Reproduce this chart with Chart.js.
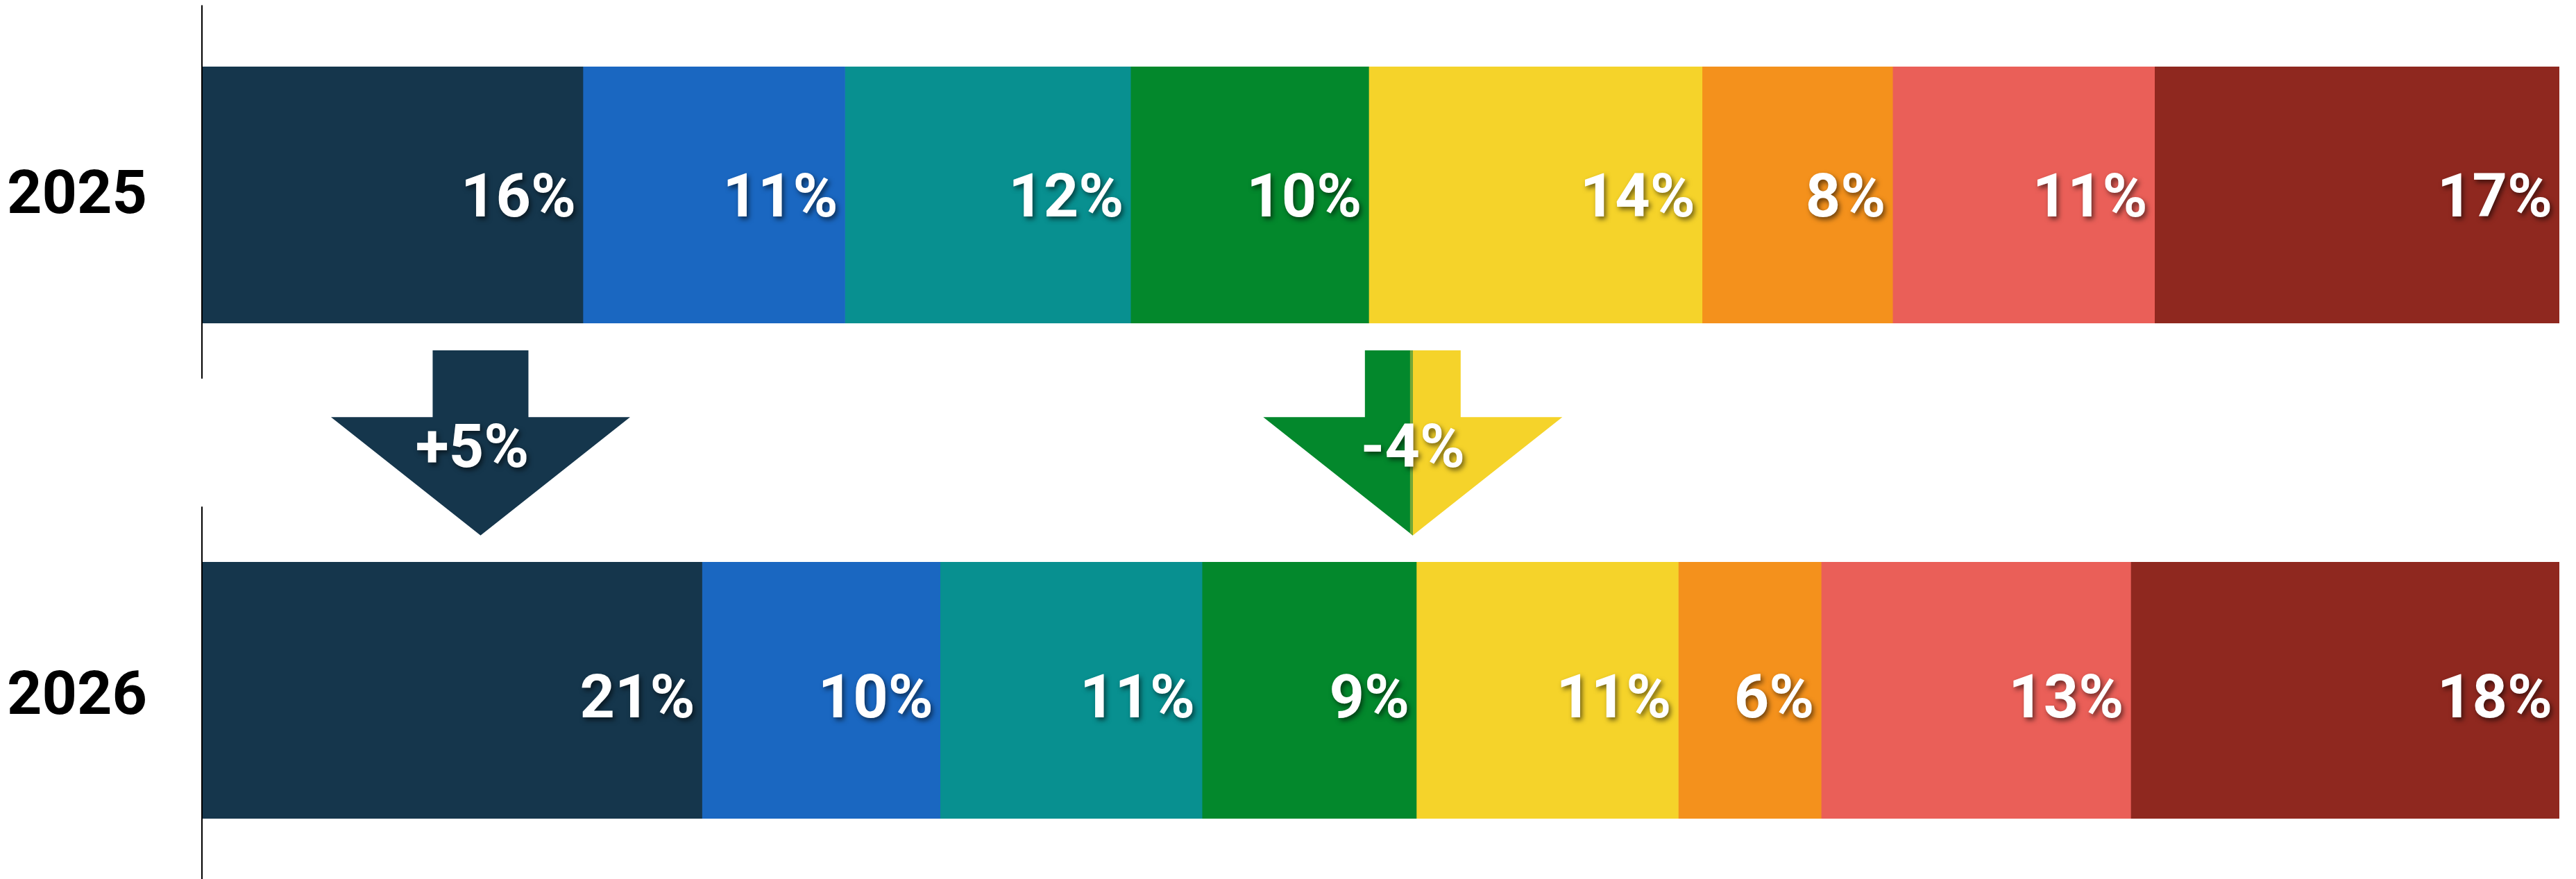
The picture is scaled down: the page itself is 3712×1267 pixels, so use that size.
<!DOCTYPE html>
<html>
<head>
<meta charset="utf-8">
<script src="https://cdn.jsdelivr.net/npm/chart.js@4/dist/chart.umd.min.js"></script>
<style>
  html, body { margin: 0; padding: 0; background: #fff; }
  canvas { display: block; }
</style>
</head>
<body>
<canvas id="chart" width="3712" height="1267"></canvas>
<script>
// rows: the empty middle row holds the change arrows
const years = ['2025', '', '2026'];
const segmentColors = ['#15364c', '#1a67c1', '#089090', '#03882c', '#f5d32a', '#f4911c', '#ea5f58', '#8f281f'];
const share2025 = [16, 11, 12, 10, 14, 8, 11, 17];
const share2026 = [21, 10, 11, 9, 11, 6, 13, 18];

// change arrows between the two bars
const changeLabels = ['+5%', '-4%'];
const changeAt = [11.7, 50.85];
const changeColors = [['#15364c'], ['#03882c', '#f5d32a']];

const FONT = 'bold 88px Roboto, "Noto Sans", sans-serif';

function shadowText(ctx, text, x, y, align) {
    ctx.save();
    ctx.font = FONT;
    ctx.textAlign = align;
    ctx.textBaseline = 'alphabetic';
    ctx.fillStyle = '#fff';
    ctx.shadowColor = 'rgba(0, 0, 0, 0.55)';
    ctx.shadowOffsetX = 3;
    ctx.shadowOffsetY = 4;
    ctx.shadowBlur = 7;
    ctx.fillText(text, x, y);
    ctx.restore();
}

const decorations = {
    id: 'decorations',
    afterDatasetsDraw(chart) {
        const ctx = chart.ctx;
        const xs = chart.scales.x, ys = chart.scales.y;
        const step = ys.getPixelForValue(1) - ys.getPixelForValue(0);

        // axis line pieces beside each year
        ctx.save();
        ctx.strokeStyle = '#000';
        ctx.lineWidth = 2;
        [0, 2].forEach(i => {
            const cy = ys.getPixelForValue(i);
            ctx.beginPath();
            ctx.moveTo(chart.chartArea.left, cy - step * 0.745);
            ctx.lineTo(chart.chartArea.left, cy + step * 0.745);
            ctx.stroke();
        });
        ctx.restore();

        // value labels, right aligned at the end of each segment
        chart.data.datasets.forEach((ds, di) => {
            const meta = chart.getDatasetMeta(di);
            meta.data.forEach((el, i) => {
                const v = ds.data[i];
                if (v == null) return;
                shadowText(ctx, v + '%', el.x - 10, el.y + 35, 'right');
            });
        });

        // arrows
        const yMid = ys.getPixelForValue(1);
        const top = yMid - step * 0.368, head = yMid - step * 0.102, tip = yMid + step * 0.37;
        changeLabels.forEach((label, k) => {
            const cx = xs.getPixelForValue(changeAt[k]);
            const sw = 69, hw = 215.5;
            const path = new Path2D();
            path.moveTo(cx - sw, top);
            path.lineTo(cx + sw, top);
            path.lineTo(cx + sw, head);
            path.lineTo(cx + hw, head);
            path.lineTo(cx, tip);
            path.lineTo(cx - hw, head);
            path.lineTo(cx - sw, head);
            path.closePath();
            const cols = changeColors[k];
            ctx.save();
            if (cols.length === 1) {
                ctx.fillStyle = cols[0];
                ctx.fill(path);
            } else {
                ctx.clip(path);
                ctx.fillStyle = cols[0];
                ctx.fillRect(cx - hw - 2, top, hw + 2, tip - top + 2);
                ctx.fillStyle = cols[1];
                ctx.fillRect(cx, top, hw + 2, tip - top + 2);
                ctx.fillStyle = '#74a836';
                ctx.fillRect(cx - 4, top, 4, tip - top + 2);
            }
            ctx.restore();
            shadowText(ctx, label, cx - (cols.length === 1 ? 12 : 0), yMid + 35, 'center');
        });
    }
};

const datasets = segmentColors.map((c, i) => ({
    data: [share2025[i], null, share2026[i]],
    backgroundColor: c,
    borderWidth: 0,
    barThickness: 378
}));

const chart = new Chart(document.getElementById('chart'), {
    type: 'bar',
    data: { labels: years, datasets: datasets },
    options: {
        indexAxis: 'y',
        responsive: false,
        devicePixelRatio: 1,
        animation: false,
        layout: { padding: { top: 96, bottom: 87, right: 24, left: 0 } },
        plugins: { legend: { display: false }, tooltip: { enabled: false } },
        scales: {
            x: { stacked: true, min: 0, max: 99, display: false },
            y: {
                stacked: true,
                grid: { display: false },
                border: { display: false },
                ticks: {
                    color: '#000',
                    padding: 71,
                    labelOffset: 8,
                    font: { family: 'Roboto, "Noto Sans", sans-serif', size: 88, weight: 'bold' }
                },
                afterFit(scale) {
                    scale.width = 291;
                    scale.paddingTop = 0;
                    scale.paddingBottom = 0;
                }
            }
        }
    },
    plugins: [decorations]
});
</script>
</body>
</html>
